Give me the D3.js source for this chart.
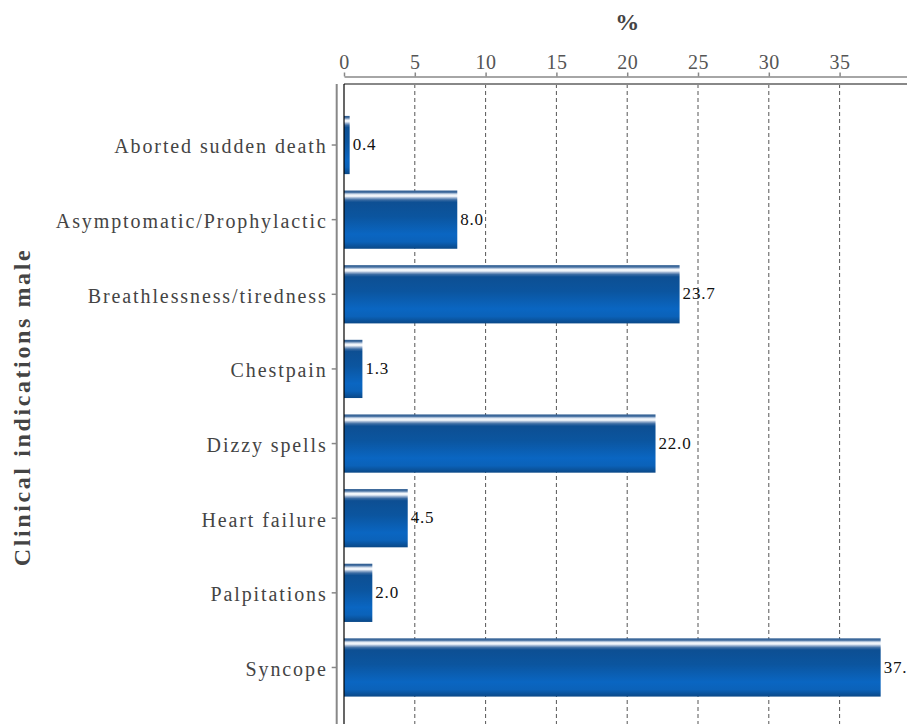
<!DOCTYPE html>
<html>
<head>
<meta charset="utf-8">
<script src="https://cdn.jsdelivr.net/npm/d3@7"></script>
<style>
  html, body { margin: 0; padding: 0; background: #fff; overflow: hidden; }
  svg { display: block; }
  text { font-family: "Liberation Serif", "Times New Roman", serif; }
</style>
</head>
<body>
<svg id="chart" width="907" height="724"></svg>
<script>
// Clinical indications (male), share of patients in %
const categories = [
  "Aborted sudden death",
  "Asymptomatic/Prophylactic",
  "Breathlessness/tiredness",
  "Chestpain",
  "Dizzy spells",
  "Heart failure",
  "Palpitations",
  "Syncope"
];
const values = [0.4, 8.0, 23.7, 1.3, 22.0, 4.5, 2.0, 37.9];
const tickValues = [0, 5, 10, 15, 20, 25, 30, 35];
const xTitle = "%";
const yTitle = "Clinical indications male";

const svg = d3.select("#chart");
const W = 907, H = 724;

const x = d3.scaleLinear().domain([0, 40]).range([344, 910.4]);
const y = d3.scaleBand()
  .domain(categories)
  .range([107.7, 704.8])
  .paddingInner(0.22)
  .paddingOuter(0.11);

// glossy vertical gradient for the bars
const defs = svg.append("defs");
const grad = defs.append("linearGradient")
  .attr("id", "barGloss")
  .attr("x1", 0).attr("y1", 0).attr("x2", 0).attr("y2", 1);
[
  [0.00, "#24558c"],
  [0.035, "#4f77a6"],
  [0.05, "#9fb6d2"],
  [0.075, "#f4f7fb"],
  [0.10, "#eef3f9"],
  [0.125, "#9cb3d1"],
  [0.16, "#3a6ba3"],
  [0.20, "#0d4f93"],
  [0.45, "#0b559f"],
  [0.75, "#0a66c2"],
  [0.88, "#0b62b9"],
  [1.00, "#0a4887"]
].forEach(([o, c]) => grad.append("stop").attr("offset", o).attr("stop-color", c));

const plotTop = 84;

// dashed vertical gridlines
svg.append("g")
  .selectAll("line")
  .data(tickValues.filter(d => d > 0))
  .join("line")
  .attr("x1", d => x(d)).attr("x2", d => x(d))
  .attr("y1", plotTop).attr("y2", H)
  .attr("stroke", "#555")
  .attr("stroke-width", 1)
  .attr("stroke-dasharray", "4,3");

// top axis
const xAxis = svg.append("g")
  .attr("transform", "translate(0,76.5)")
  .call(d3.axisTop(x).tickValues(tickValues).tickSize(4).tickSizeOuter(0));
xAxis.select(".domain").attr("stroke", "#888").attr("stroke-width", 1.5);
xAxis.selectAll(".tick line").attr("stroke", "#888").attr("stroke-width", 1.5);
xAxis.selectAll(".tick text")
  .attr("font-family", "Liberation Serif, serif")
  .attr("font-size", 20)
  .attr("letter-spacing", "0.5px")
  .attr("fill", "#555")
  .attr("dy", "-0.05em");

// plot frame top border
svg.append("line")
  .attr("x1", x(0)).attr("x2", W)
  .attr("y1", plotTop).attr("y2", plotTop)
  .attr("stroke", "#888").attr("stroke-width", 2);

// left category axis
const yAxis = svg.append("g")
  .attr("transform", "translate(336.7,0)")
  .call(d3.axisLeft(y).tickSize(5).tickSizeOuter(0).tickPadding(6));
yAxis.select(".domain").remove();
yAxis.append("line")
  .attr("x1", 0).attr("x2", 0)
  .attr("y1", plotTop).attr("y2", H)
  .attr("stroke", "#888").attr("stroke-width", 2);
yAxis.selectAll(".tick line").attr("stroke", "#888").attr("stroke-width", 1.5);
yAxis.selectAll(".tick text")
  .attr("font-family", "Liberation Serif, serif")
  .attr("font-size", 20)
  .attr("letter-spacing", "1.9px")
  .attr("dx", "2px")
  .attr("dy", "0.42em")
  .attr("fill", "#444");

// bars
svg.append("g")
  .selectAll("rect")
  .data(categories)
  .join("rect")
  .attr("x", x(0))
  .attr("y", d => y(d))
  .attr("width", (d, i) => x(values[i]) - x(0))
  .attr("height", y.bandwidth())
  .attr("fill", "url(#barGloss)");

// zero baseline
svg.append("line")
  .attr("x1", x(0)).attr("x2", x(0))
  .attr("y1", plotTop).attr("y2", H)
  .attr("stroke", "#000").attr("stroke-width", 1.2);

// value labels
svg.append("g")
  .selectAll("text")
  .data(categories)
  .join("text")
  .attr("x", (d, i) => x(values[i]) + 3)
  .attr("y", d => y(d) + y.bandwidth() / 2)
  .attr("dy", "0.3em")
  .attr("font-size", 17)
  .attr("letter-spacing", "0.8px")
  .attr("fill", "#111")
  .text((d, i) => values[i].toFixed(1));

// axis titles
svg.append("text")
  .attr("x", (x(0) + x(40)) / 2)
  .attr("y", 30)
  .attr("text-anchor", "middle")
  .attr("font-size", 24)
  .attr("font-weight", "bold")
  .attr("fill", "#444")
  .text(xTitle);

svg.append("text")
  .attr("transform", "translate(30,407) rotate(-90)")
  .attr("text-anchor", "middle")
  .attr("font-size", 24)
  .attr("font-weight", "bold")
  .attr("letter-spacing", "2.6px")
  .attr("fill", "#444")
  .text(yTitle);
</script>
</body>
</html>
